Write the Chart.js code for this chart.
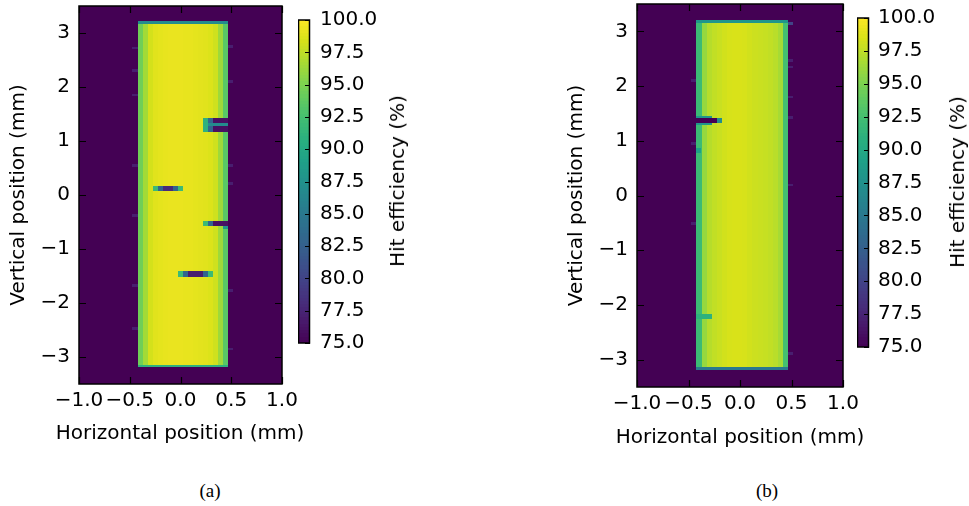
<!DOCTYPE html>
<html><head><meta charset="utf-8">
<script src="https://cdn.jsdelivr.net/npm/chart.js@4.4.1/dist/chart.umd.min.js"></script>
<style>
html,body{margin:0;padding:0;background:#fff}
body{width:969px;height:506px;position:relative;overflow:hidden;font-family:"DejaVu Sans",sans-serif}
canvas{position:absolute;display:block}
.cbt{position:absolute;font-size:20px;white-space:nowrap;transform:translate(-50%,-50%) rotate(-90deg);color:#000;line-height:1}
.xt{position:absolute;font-size:20px;white-space:nowrap;transform:translate(-50%,-50%);color:#000;line-height:1}
.cap{position:absolute;font-family:"Liberation Serif","Times New Roman",serif;font-size:19px;transform:translate(-50%,-50%);line-height:1;color:#000}
</style></head><body>
<canvas id="heatA" width="300" height="450" style="left:0;top:0"></canvas>
<canvas id="barA" width="120" height="360" style="left:298px;top:0"></canvas>
<canvas id="heatB" width="302" height="454" style="left:558px;top:0"></canvas>
<canvas id="barB" width="112" height="360" style="left:857px;top:0"></canvas>
<div class="xt" style="left:180px;top:432px">Horizontal position (mm)</div>
<div class="xt" style="left:740px;top:436px">Horizontal position (mm)</div>
<div class="cbt" style="left:397px;top:181px">Hit efficiency (%)</div>
<div class="cbt" style="left:957px;top:182px">Hit efficiency (%)</div>
<div class="cap" style="left:210px;top:490px">(a)</div>
<div class="cap" style="left:767px;top:490px">(b)</div>
<script>
// ---------------- data ----------------
const xTickValues = [-1.0, -0.5, 0.0, 0.5, 1.0];
const yTickValues = [-3, -2, -1, 0, 1, 2, 3];
const cbTickValues = [75.0, 77.5, 80.0, 82.5, 85.0, 87.5, 90.0, 92.5, 95.0, 97.5, 100.0];
const xRange = [-1.0, 1.0];
const yRange = [-3.5, 3.5];
const effRange = [75, 100];
const rowPitch = 0.05;          // mm, height of one bin row
const outsideEff = 0;           // no hits outside the sensor

// Panel (a)
const sensorXA = [-0.423, 0.467];
const sensorYA = [-3.19, 3.22];
const columnEffA = [94.5, 96.5, 98.3, 98.8, 99.0, 99.1, 99.2, 99.2, 99.2, 99.1, 99.1, 99.0, 98.9, 98.8, 98.6, 98.1, 96.3, 93.5];
const topRowEffA = 87;
const bottomRowEffA = 91;
// [x from, x to, y from, y to, efficiency]
const defectsA = [
  [0.220, 0.269, 1.17, 1.43, 91],
  [0.269, 0.319, 1.34, 1.43, 83],
  [0.319, 0.467, 1.34, 1.43, 76],
  [0.269, 0.467, 1.28, 1.34, 87],
  [0.269, 0.319, 1.17, 1.28, 83],
  [0.319, 0.467, 1.17, 1.28, 76],
  [-0.275, -0.225, 0.07, 0.16, 92],
  [-0.225, -0.176, 0.07, 0.16, 83],
  [-0.176, -0.077, 0.07, 0.16, 78],
  [-0.077, -0.028, 0.07, 0.16, 83],
  [-0.028, 0.022, 0.07, 0.16, 92],
  [0.220, 0.269, -0.58, -0.49, 92],
  [0.269, 0.319, -0.58, -0.49, 83],
  [0.319, 0.467, -0.58, -0.49, 76],
  [0.418, 0.467, -0.63, -0.58, 88],
  [-0.028, 0.022, -1.51, -1.40, 92],
  [0.022, 0.071, -1.51, -1.40, 83],
  [0.071, 0.220, -1.51, -1.40, 77],
  [0.220, 0.269, -1.51, -1.40, 83],
  [0.269, 0.319, -1.51, -1.40, 92]
];
// stray bins just outside the sensor: [x from, x to, y centre, efficiency]
const strayA = [
  [-0.473, -0.423, 2.72, 77], [-0.473, -0.423, 2.31, 77], [-0.473, -0.423, 1.85, 77],
  [-0.473, -0.423, 0.55, 77], [-0.473, -0.423, -0.38, 77], [-0.473, -0.423, -1.67, 77],
  [-0.473, -0.423, -2.47, 77],
  [0.467, 0.517, 2.75, 77], [0.467, 0.517, 2.10, 77], [0.467, 0.517, 0.55, 77],
  [0.467, 0.517, 0.21, 77], [0.467, 0.517, -1.77, 77], [0.467, 0.517, -2.85, 77]
];

// Panel (b)
const sensorXB = [-0.423, 0.467];
const sensorYB = [-3.19, 3.20];
const columnEffB = [92.0, 96.0, 97.2, 97.6, 97.9, 98.2, 98.4, 98.5, 98.5, 98.4, 98.2, 98.0, 97.9, 97.8, 97.6, 97.3, 96.6, 92.5];
const topRowEffB = 88;
const bottomRowEffB = 85;
const defectsB = [
  [-0.423, -0.275, 1.416, 1.46, 88],
  [-0.423, -0.225, 1.325, 1.416, 75],
  [-0.225, -0.176, 1.325, 1.416, 87],
  [-0.423, -0.275, 1.28, 1.325, 88],
  [-0.423, -0.275, -2.25, -2.16, 91],
  [-0.423, -0.374, 0.78, 0.86, 89]
];
const strayB = [
  [0.467, 0.517, 3.14, 80], [0.467, 0.517, 2.47, 77], [0.467, 0.517, 2.35, 77],
  [0.467, 0.517, 1.80, 77], [0.467, 0.517, 1.43, 77], [0.467, 0.517, 0.19, 77],
  [0.467, 0.517, -2.89, 77],
  [-0.473, -0.423, 2.10, 77], [-0.473, -0.423, 0.95, 77], [-0.473, -0.423, -0.51, 77]
];

// ---------------- colour map (viridis) ----------------
const VIRIDIS = ['#440154','#48186a','#472d7b','#424086','#3b528b','#33638d','#2c728e','#26828e','#21918c','#1fa088','#28ae80','#3fbc73','#5ec962','#84d44b','#addc30','#d8e219','#fde725'];
function hexRgb(h){return [parseInt(h.slice(1,3),16),parseInt(h.slice(3,5),16),parseInt(h.slice(5,7),16)];}
const VRGB = VIRIDIS.map(hexRgb);
function colormap(v){
  let t = (v - effRange[0]) / (effRange[1] - effRange[0]);
  t = Math.max(0, Math.min(1, t));
  const f = t * (VRGB.length - 1);
  const i = Math.min(Math.floor(f), VRGB.length - 2);
  const r = f - i;
  const a = VRGB[i], b = VRGB[i + 1];
  return 'rgb(' + [0,1,2].map(k => Math.round(a[k] + (b[k] - a[k]) * r)).join(',') + ')';
}

// ---------------- a minimal "cell" dataset type ----------------
class CellElement extends Chart.Element {
  static id = 'cell';
  static defaults = {};
  draw(ctx){
    ctx.save();
    ctx.fillStyle = this.color;
    ctx.fillRect(this.x, this.y, this.width, this.height);
    ctx.restore();
  }
  inRange(mx, my){return mx >= this.x && mx <= this.x + this.width && my >= this.y && my <= this.y + this.height;}
  inXRange(mx){return mx >= this.x && mx <= this.x + this.width;}
  inYRange(my){return my >= this.y && my <= this.y + this.height;}
  getCenterPoint(){return {x: this.x + this.width / 2, y: this.y + this.height / 2};}
}
class CellController extends Chart.DatasetController {
  static id = 'cells';
  static defaults = { dataElementType: 'cell' };
  update(mode){
    const meta = this._cachedMeta;
    this.updateElements(meta.data, 0, meta.data.length, mode);
  }
  updateElements(els, start, count){
    const {xScale, yScale} = this._cachedMeta;
    const data = this.getDataset().data;
    for (let i = start; i < start + count; i++){
      const d = data[i];
      const xa = Math.round(xScale.getPixelForValue(d.x0));
      const xb = Math.round(xScale.getPixelForValue(d.x1));
      const ya = Math.round(yScale.getPixelForValue(d.y1));
      const yb = Math.round(yScale.getPixelForValue(d.y0));
      Object.assign(els[i], {x: Math.min(xa, xb), y: Math.min(ya, yb), width: Math.abs(xb - xa), height: Math.abs(yb - ya), color: colormap(d.v)});
    }
  }
  draw(){
    const ctx = this.chart.ctx;
    for (const el of this._cachedMeta.data) el.draw(ctx);
  }
}
Chart.register(CellController, CellElement);

function cell(x0, x1, y0, y1, v){return {x: (x0 + x1) / 2, y: (y0 + y1) / 2, x0, x1, y0, y1, v};}
function buildCells(sx, sy, colEff, topEff, botEff, defects, stray){
  const cells = [cell(xRange[0], xRange[1], yRange[0], yRange[1], outsideEff)];
  stray.forEach(s => cells.push(cell(s[0], s[1], s[2] - rowPitch / 2, s[2] + rowPitch / 2, s[3])));
  const cw = (sx[1] - sx[0]) / colEff.length;
  colEff.forEach((v, i) => cells.push(cell(sx[0] + i * cw, sx[0] + (i + 1) * cw, sy[0], sy[1], v)));
  cells.push(cell(sx[0], sx[1], sy[1] - rowPitch, sy[1], topEff));
  cells.push(cell(sx[0], sx[1], sy[0], sy[0] + rowPitch, botEff));
  defects.forEach(d => cells.push(cell(d[0], d[1], d[2], d[3], d[4])));
  return cells;
}

// ---------------- charts ----------------
Chart.defaults.font.family = '"DejaVu Sans", sans-serif';
Chart.defaults.font.size = 20;
Chart.defaults.color = '#000';
const minus = s => s.replace('-', '\u2212');
const noPad = s => { s.paddingTop = 0; s.paddingBottom = 0; s.paddingLeft = 0; s.paddingRight = 0; };

const framePlugin = {
  id: 'frame',
  afterDraw(chart){
    const {ctx, chartArea: a, scales: {x, y}} = chart;
    ctx.save();
    ctx.strokeStyle = '#000';
    ctx.lineWidth = 1.2;
    ctx.beginPath();
    xTickValues.forEach(t => {
      const p = Math.round(x.getPixelForValue(t)) + 0.5;
      ctx.moveTo(p, a.bottom); ctx.lineTo(p, a.bottom - 7);
      ctx.moveTo(p, a.top); ctx.lineTo(p, a.top + 7);
    });
    yTickValues.forEach(t => {
      const p = Math.round(y.getPixelForValue(t)) + 0.5;
      ctx.moveTo(a.left, p); ctx.lineTo(a.left + 7, p);
      ctx.moveTo(a.right, p); ctx.lineTo(a.right - 7, p);
    });
    ctx.stroke();
    ctx.lineWidth = 1.5;
    ctx.strokeRect(a.left, a.top, a.right - a.left, a.bottom - a.top);
    ctx.restore();
  }
};

function heatmapChart(id, cells, padTop, padRight, xAxisHeight, yAxisWidth){
  return new Chart(document.getElementById(id), {
    type: 'cells',
    data: {datasets: [{data: cells}]},
    options: {
      responsive: false, animation: false, events: [],
      layout: {padding: {top: padTop, right: padRight, left: 0, bottom: 0}},
      plugins: {legend: {display: false}, tooltip: {enabled: false}},
      scales: {
        x: {
          type: 'linear', position: 'bottom', min: xRange[0], max: xRange[1],
          afterBuildTicks: s => { s.ticks = xTickValues.map(v => ({value: v})); },
          afterFit: s => { s.height = xAxisHeight; noPad(s); },
          grid: {display: false, drawTicks: false}, border: {display: false},
          ticks: {autoSkip: false, minRotation: 0, maxRotation: 0, padding: 5, callback: v => minus(Number(v).toFixed(1))}
        },
        y: {
          type: 'linear', position: 'left', min: yRange[0], max: yRange[1],
          afterBuildTicks: s => { s.ticks = yTickValues.map(v => ({value: v})); },
          afterFit: s => { s.width = yAxisWidth; noPad(s); },
          grid: {display: false, drawTicks: false}, border: {display: false},
          ticks: {autoSkip: false, padding: 9, callback: v => minus(String(Math.round(v)))},
          title: {display: true, text: 'Vertical position (mm)', padding: {top: 6.5, bottom: 0}}
        }
      }
    },
    plugins: [framePlugin]
  });
}

const cbFramePlugin = {
  id: 'cbframe',
  afterDraw(chart){
    const {ctx, chartArea: a, scales: {y}} = chart;
    ctx.save();
    ctx.strokeStyle = '#000';
    ctx.lineWidth = 1.2;
    ctx.beginPath();
    cbTickValues.forEach(t => {
      const p = Math.round(y.getPixelForValue(t)) + 0.5;
      ctx.moveTo(a.right, p); ctx.lineTo(a.right - 5, p);
    });
    ctx.stroke();
    ctx.lineWidth = 1.5;
    ctx.strokeRect(a.left + 0.5, a.top, a.right - a.left - 1, a.bottom - a.top);
    ctx.restore();
  }
};

function colorbarChart(id, padTop, padBottom, axisWidth, labelPad){
  const levels = [];
  const steps = 100, step = (effRange[1] - effRange[0]) / steps;
  for (let i = 0; i < steps; i++) levels.push(cell(0, 1, effRange[0] + i * step, effRange[0] + (i + 1) * step, effRange[0] + (i + 0.5) * step));
  return new Chart(document.getElementById(id), {
    type: 'cells',
    data: {datasets: [{data: levels}]},
    options: {
      responsive: false, animation: false, events: [],
      layout: {padding: {top: padTop, bottom: padBottom, left: 0, right: 0}},
      plugins: {legend: {display: false}, tooltip: {enabled: false}},
      scales: {
        x: {type: 'linear', min: 0, max: 1, display: false},
        y: {
          type: 'linear', position: 'right', min: effRange[0], max: effRange[1],
          afterBuildTicks: s => { s.ticks = cbTickValues.map(v => ({value: v})); },
          afterFit: s => { s.width = axisWidth; noPad(s); },
          grid: {display: false, drawTicks: false}, border: {display: false},
          ticks: {autoSkip: false, padding: labelPad, callback: v => Number(v).toFixed(1)}
        }
      }
    },
    plugins: [cbFramePlugin]
  });
}

heatmapChart('heatA', buildCells(sensorXA, sensorYA, columnEffA, topRowEffA, bottomRowEffA, defectsA, strayA), 6, 18, 66, 79);
heatmapChart('heatB', buildCells(sensorXB, sensorYB, columnEffB, topRowEffB, bottomRowEffB, defectsB, strayB), 4, 17, 67, 79);
colorbarChart('barA', 20, 17, 108, 10);
colorbarChart('barB', 18, 13, 100, 9);
</script>
</body></html>
